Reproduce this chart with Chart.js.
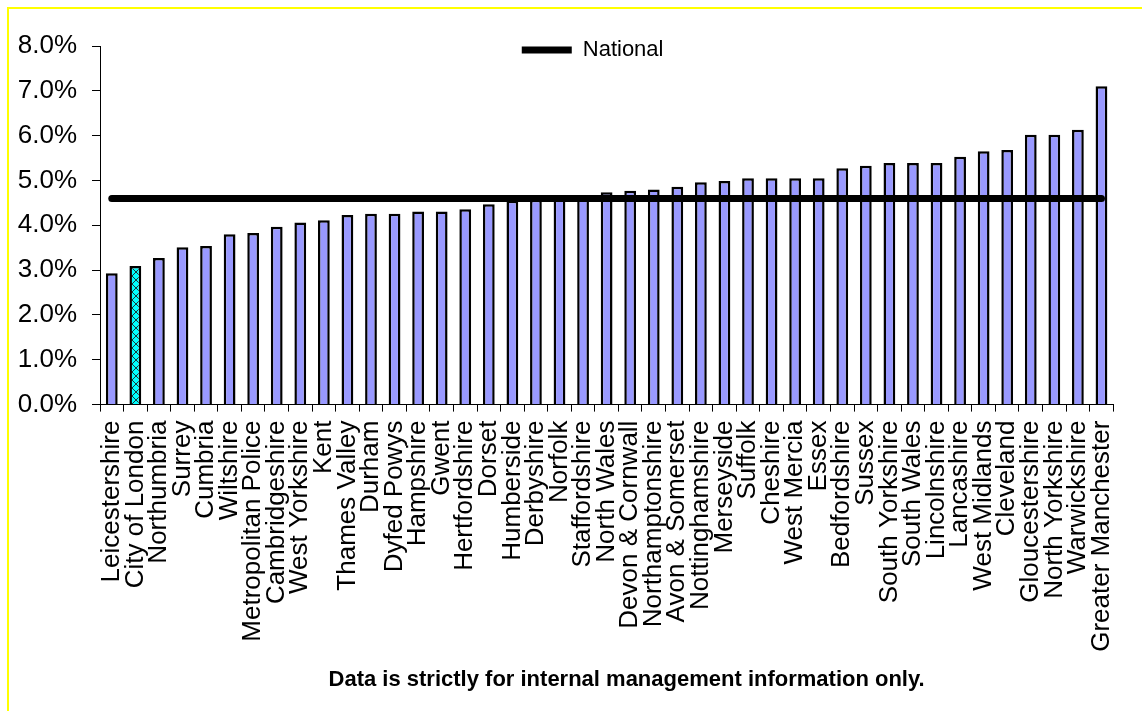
<!DOCTYPE html>
<html>
<head>
<meta charset="utf-8">
<script src="https://cdn.jsdelivr.net/npm/chart.js@4/dist/chart.umd.min.js"></script>
<style>
  body { margin: 0; background: #fff; overflow: hidden; }
  #wrap { position: relative; width: 1142px; height: 711px; }
  #frame { position: absolute; left: 7px; top: 7px; right: 0; bottom: 0;
           border-top: 2px solid #ffff00; border-left: 2px solid #ffff00; pointer-events: none; }
</style>
</head>
<body>
<div id="wrap">
  <canvas id="myChart"></canvas>
  <div id="frame"></div>
</div>
<script>
const forces = ['Leicestershire', 'City of London', 'Northumbria', 'Surrey', 'Cumbria', 'Wiltshire',
  'Metropolitan Police', 'Cambridgeshire', 'West Yorkshire', 'Kent', 'Thames Valley', 'Durham',
  'Dyfed Powys', 'Hampshire', 'Gwent', 'Hertfordshire', 'Dorset', 'Humberside', 'Derbyshire',
  'Norfolk', 'Staffordshire', 'North Wales', 'Devon & Cornwall', 'Northamptonshire',
  'Avon & Somerset', 'Nottinghamshire', 'Merseyside', 'Suffolk', 'Cheshire', 'West Mercia', 'Essex',
  'Bedfordshire', 'Sussex', 'South Yorkshire', 'South Wales', 'Lincolnshire', 'Lancashire',
  'West Midlands', 'Cleveland', 'Gloucestershire', 'North Yorkshire', 'Warwickshire',
  'Greater Manchester'];
const rates = [2.93, 3.09, 3.27, 3.51, 3.54, 3.80, 3.83, 3.97, 4.06, 4.11, 4.23, 4.26, 4.26, 4.31,
  4.31, 4.36, 4.47, 4.55, 4.57, 4.58, 4.60, 4.74, 4.77, 4.80, 4.86, 4.96, 4.99, 5.05, 5.05, 5.05,
  5.05, 5.27, 5.33, 5.39, 5.39, 5.39, 5.53, 5.65, 5.68, 6.02, 6.02, 6.13, 7.10];
const nationalRate = 4.6;
const highlighted = 'City of London';
const footer = 'Data is strictly for internal management information only.';

const FONT = '"Liberation Sans", Arial, sans-serif';
Chart.defaults.color = '#000';
Chart.defaults.font.family = FONT;

// cyan fill with a dark cross-hatch, like the highlighted bar
function hatch() {
  const c = document.createElement('canvas');
  c.width = 8; c.height = 8;
  const g = c.getContext('2d');
  g.fillStyle = '#00ffff';
  g.fillRect(0, 0, 8, 8);
  g.strokeStyle = '#1a3a3a';
  g.lineWidth = 1;
  g.beginPath();
  g.moveTo(0, 0); g.lineTo(8, 8);
  g.moveTo(8, 0); g.lineTo(0, 8);
  g.stroke();
  return g.createPattern(c, 'repeat');
}
const pattern = hatch();

// legend sits inside the plot in the original, footer a bit right of centre
const nudge = {
  id: 'nudge',
  afterLayout(chart) {
    const lg = chart.legend;
    lg.top += 25; lg.bottom += 25;
    lg.left -= 14; lg.right -= 14;
    const t = chart.titleBlock;
    t.left += 20; t.right += 20;
  }
};

const ctx = document.getElementById('myChart').getContext('2d');
const myChart = new Chart(ctx, {
  data: {
    labels: forces,
    datasets: [
      {
        type: 'line',
        label: 'National',
        data: forces.map(() => nationalRate),
        borderColor: '#000',
        backgroundColor: '#000',
        borderWidth: 7,
        borderCapStyle: 'round',
        pointRadius: 0,
        order: 0
      },
      {
        type: 'bar',
        label: 'Force',
        data: rates,
        backgroundColor: forces.map(f => f === highlighted ? pattern : '#9999ff'),
        borderColor: '#000',
        borderWidth: 2.5,
        barPercentage: 0.5,
        categoryPercentage: 1,
        order: 1
      }
    ]
  },
  options: {
    responsive: true,
    maintainAspectRatio: false,
    animation: false,
    layout: { padding: { top: 14, right: 21, bottom: 8, left: 17 } },
    scales: {
      x: {
        grid: { drawOnChartArea: false, tickLength: 7, color: '#000' },
        border: { color: '#000', width: 1 },
        ticks: { autoSkip: false, minRotation: 90, maxRotation: 90, padding: 9,
                 font: { size: 26 } },
        afterFit: (s) => { s.height = 252; }
      },
      y: {
        min: 0,
        max: 8,
        grid: { drawOnChartArea: false, tickLength: 8, color: '#000' },
        border: { color: '#000', width: 1 },
        ticks: { stepSize: 1, padding: 15, font: { size: 26 },
                 callback: (v) => v.toFixed(1) + '%' },
        afterFit: (s) => { s.width = 83; }
      }
    },
    plugins: {
      legend: {
        position: 'top',
        fullSize: false,
        labels: {
          filter: (item) => item.text === 'National',
          usePointStyle: true,
          pointStyle: 'line',
          pointStyleWidth: 50,
          padding: 0,
          font: { size: 22 },
          color: '#000'
        }
      },
      title: {
        display: true,
        position: 'bottom',
        fullSize: false,
        text: footer,
        font: { size: 22, weight: 'bold' },
        padding: { top: 10, bottom: 10 }
      },
      tooltip: { enabled: false }
    }
  },
  plugins: [nudge]
});
</script>
</body>
</html>
